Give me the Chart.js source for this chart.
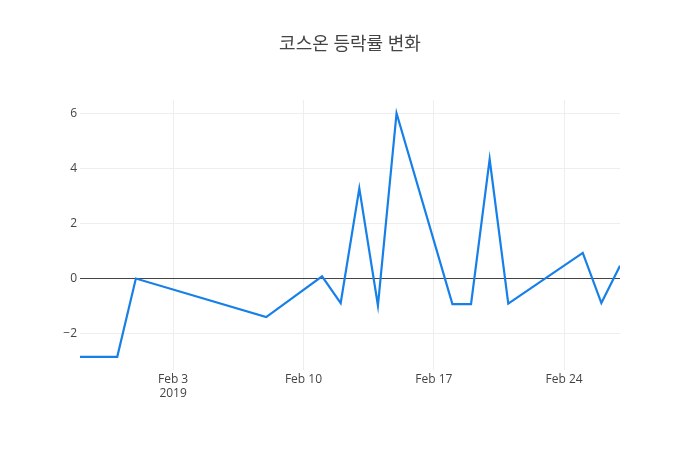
<!DOCTYPE html>
<html lang="ko">
<head>
    <meta charset="UTF-8">
    <title>코스온 등락률 변화</title>
    <script src="https://cdn.jsdelivr.net/npm/chart.js"></script>
    <style>
        body { margin: 0; background: #fff; }
        #wrap { width: 700px; height: 450px; }
    </style>
</head>
<body>
<div id="wrap"><canvas id="rateChart"></canvas></div>
<script>
    // trading days and daily change (%)
    const dates = ['2019-01-29', '2019-01-31', '2019-02-01', '2019-02-08', '2019-02-11',
                   '2019-02-12', '2019-02-13', '2019-02-14', '2019-02-15', '2019-02-18',
                   '2019-02-19', '2019-02-20', '2019-02-21', '2019-02-25', '2019-02-26',
                   '2019-02-27'];
    const changes = [-2.84, -2.84, 0.0, -1.40, 0.08,
                     -0.89, 3.27, -0.98, 6.0, -0.93,
                     -0.93, 4.33, -0.91, 0.93, -0.89,
                     0.46];
    const xTickDates = ['2019-02-03', '2019-02-10', '2019-02-17', '2019-02-24'];
    const xTickLabels = [['Feb 3', '2019'], 'Feb 10', 'Feb 17', 'Feb 24'];
    const yTicks = [-2, 0, 2, 4, 6];

    const DAY = 86400000;
    const toDay = s => Date.UTC(+s.slice(0, 4), +s.slice(5, 7) - 1, +s.slice(8, 10)) / DAY;

    const points = dates.map((d, i) => ({ x: toDay(d), y: changes[i] }));
    const xTickDays = xTickDates.map(toDay);

    const font = { family: "'Open Sans', 'Noto Sans CJK KR', sans-serif", size: 12 };

    new Chart(document.getElementById('rateChart'), {
        type: 'line',
        data: {
            datasets: [{
                data: points,
                borderColor: 'rgb(22,128,232)',
                borderWidth: 2.2,
                pointRadius: 0,
                tension: 0,
                fill: false
            }]
        },
        options: {
            responsive: true,
            maintainAspectRatio: false,
            animation: false,
            layout: { padding: 0 },
            plugins: {
                legend: { display: false },
                tooltip: { enabled: false },
                title: {
                    display: true,
                    text: '코스온 등락률 변화',
                    color: '#444',
                    font: { family: font.family, size: 18, weight: 'normal', lineHeight: 1.2 },
                    padding: { top: 34, bottom: 44.4 }
                }
            },
            scales: {
                x: {
                    type: 'linear',
                    min: toDay(dates[0]),
                    max: toDay(dates[dates.length - 1]),
                    afterBuildTicks: s => { s.ticks = xTickDays.map(v => ({ value: v })); },
                    afterFit: s => { s.height = 80; },
                    grid: { color: '#eee', drawTicks: false },
                    border: { display: false },
                    ticks: {
                        color: '#444',
                        font: font,
                        padding: 2,
                        maxRotation: 0,
                        callback: (v, i) => xTickLabels[i]
                    }
                },
                y: {
                    min: -3.32,
                    max: 6.48,
                    afterBuildTicks: s => { s.ticks = yTicks.map(v => ({ value: v })); },
                    afterFit: s => { s.width = 80; },
                    grid: {
                        drawTicks: false,
                        color: c => c.tick && c.tick.value === 0 ? '#444' : '#eee'
                    },
                    border: { display: false },
                    ticks: {
                        color: '#444',
                        font: font,
                        padding: 3,
                        callback: v => v < 0 ? '\u2212' + Math.abs(v) : String(v)
                    }
                },
                // empty right margin so the title centres on the whole page
                yRight: {
                    position: 'right',
                    display: true,
                    grid: { display: false },
                    border: { display: false },
                    ticks: { display: false },
                    afterFit: s => { s.width = 80; }
                }
            }
        }
    });
</script>
</body>
</html>
